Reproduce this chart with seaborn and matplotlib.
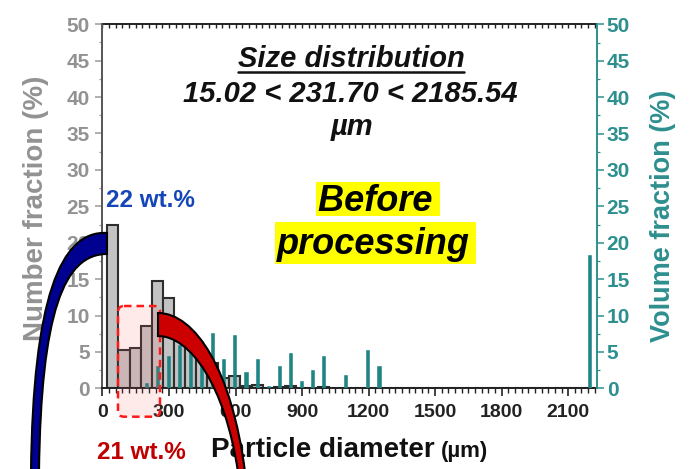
import numpy as np
import pandas as pd
import matplotlib
matplotlib.use("Agg")
import matplotlib.pyplot as plt
import seaborn as sns
from matplotlib.path import Path
from matplotlib.patches import PathPatch, FancyBboxPatch, Rectangle
from matplotlib.transforms import Affine2D
from matplotlib.ticker import MultipleLocator
from matplotlib.lines import Line2D

# ---------------- data ----------------
bin_start = 22          # µm, left edge of first bin
bin_width = 50          # µm
number_fraction = [22.4, 5.2, 5.5, 8.6, 14.8, 12.4, 8.5, 6.5, 4.5, 3.5,
                   1.35, 1.75, 0.3, 0.5, 0.05, 0.15, 0.3, 0.1, 0.05, 0.15,
                   0.1, 0.05, 0.05, 0.05, 0.05, 0, 0, 0, 0, 0,
                   0, 0, 0, 0, 0, 0, 0, 0, 0, 0,
                   0, 0, 0, 0]
volume_fraction = [0, 0, 0, 0.7, 3.0, 4.5, 5.9, 6.3, 6.5, 7.6,
                   4.0, 7.3, 2.2, 4.0, 0.35, 3.0, 4.8, 1.0, 2.5, 4.5,
                   0, 1.8, 0, 5.2, 3.0, 0, 0, 0, 0, 0,
                   0, 0, 0, 0, 0, 0, 0, 0, 0, 0,
                   0, 0, 0, 18.3]
x_ticks = [0, 300, 600, 900, 1200, 1500, 1800, 2100]
y_ticks = [0, 5, 10, 15, 20, 25, 30, 35, 40, 45, 50]
title_lines = ["Size distribution", "15.02 < 231.70 < 2185.54", "µm"]
note_lines = ["Before ", "processing"]
wt_top = "22 wt.%"
wt_bottom = "21 wt.%"

# ---------------- style ----------------
sns.set_theme(style="white")
plt.rcParams['font.family'] = ['Liberation Sans', 'DejaVu Sans']
plt.rcParams['font.weight'] = 'bold'

W, H = 692, 469
GRAY_TXT = '#929292'
TEAL = '#1f8484'
TEAL_TXT = '#2e8f8f'

fig = plt.figure(figsize=(W / 100, H / 100), dpi=100)
fig.patch.set_facecolor('white')
pix = Affine2D().scale(1 / W, -1 / H).translate(0, 1) + fig.transFigure

ax = fig.add_axes([102.5 / W, 1 - 388.3 / H, 494.5 / W, 364 / H])
ax2 = ax.twinx()

n_bins = len(number_fraction)
edges = [float(bin_start + bin_width * i) for i in range(n_bins + 1)]
centers = [bin_start + bin_width * (i + 0.5) for i in range(n_bins)]
df = pd.DataFrame({'d': centers, 'n': number_fraction, 'v': volume_fraction})
df_v = df[df['v'] > 0].reset_index(drop=True)

sns.histplot(data=df, x='d', weights='n', bins=edges, ax=ax,
             color='#c3c3c3', edgecolor='#2e2e2e', linewidth=1.5, alpha=1)
sns.histplot(data=df_v, x='d', weights='v', bins=edges, ax=ax2,
             shrink=0.28, color=TEAL, edgecolor=TEAL, linewidth=0.4, alpha=1)

ax.set_xlim(0, 2230)
ax.set_ylim(0, 50)
ax2.set_ylim(0, 50)
ax.set_xticks(x_ticks)
ax.xaxis.set_minor_locator(MultipleLocator(30))
ax.set_yticks(y_ticks)
ax.yaxis.set_minor_locator(MultipleLocator(2.5))
ax2.set_yticks(y_ticks)
ax2.yaxis.set_minor_locator(MultipleLocator(2.5))
ax.set_xlabel('')
ax.set_ylabel('')
ax2.set_ylabel('')

ax.tick_params(axis='x', which='major', direction='out', length=6, width=1.2,
               color='#222222', labelsize=14, pad=5, bottom=True)
ax.tick_params(axis='x', which='minor', direction='out', length=3.5, width=1.0,
               color='#222222', bottom=True)
for lab in ax.get_xticklabels():
    lab.set_fontweight('bold')
    lab.set_color('#222222')
ax.tick_params(axis='y', which='major', direction='out', length=5, width=1.1,
               color='#9a9a9a', labelcolor=GRAY_TXT, labelsize=15, pad=4, left=True)
ax.tick_params(axis='y', which='minor', direction='out', length=2.5, width=0.9,
               color='#9a9a9a', left=True)
ax2.tick_params(axis='y', which='major', direction='out', length=5, width=1.1,
                color=TEAL_TXT, labelcolor=TEAL_TXT, labelsize=15, pad=2, right=True)
ax2.tick_params(axis='y', which='minor', direction='out', length=2.5, width=0.9,
                color=TEAL_TXT, right=True)

sec = ax.secondary_xaxis('top')
sec.set_xticks(x_ticks)
sec.xaxis.set_minor_locator(MultipleLocator(30))
sec.tick_params(axis='x', which='both', direction='in', labeltop=False,
                length=3, width=1.0, color='#222222')
sec.spines['top'].set_color('#222222')
sec.spines['top'].set_linewidth(1.4)

for name, sp in ax.spines.items():
    sp.set_linewidth(1.4)
ax.spines['left'].set_color('#555555')
ax.spines['bottom'].set_color('#222222')
ax.spines['top'].set_visible(False)
ax.spines['right'].set_visible(False)
for name in ['left', 'top', 'bottom']:
    ax2.spines[name].set_visible(False)
ax2.spines['right'].set_color(TEAL_TXT)
ax2.spines['right'].set_linewidth(1.4)

# axis labels
ax.set_ylabel('Number fraction (%)', fontsize=20, fontweight='bold', color=GRAY_TXT)
ax.yaxis.set_label_coords((49 - 102.5) / 494.5, (388.3 - 208) / 364)
ax2.set_ylabel('Volume fraction (%)', fontsize=19.5, fontweight='bold', color=TEAL_TXT,
               rotation=90)
ax2.yaxis.set_label_coords((650 - 102.5) / 494.5, (388.3 - 216) / 364)
fig.text(211, 457, 'Particle diameter', transform=pix, ha='left', va='baseline',
         fontsize=20, fontweight='bold', color='#111111')
fig.text(441, 457, '(µm)', transform=pix, ha='left', va='baseline',
         fontsize=16, fontweight='bold', color='#111111')

# title
t1 = fig.text(351, 67, title_lines[0], transform=pix, ha='center', va='baseline',
              fontsize=21, fontweight='bold', fontstyle='italic', color='#111111')
fig.text(350, 102, title_lines[1], transform=pix, ha='center', va='baseline',
         fontsize=21, fontweight='bold', fontstyle='italic', color='#111111')
fig.text(352, 135, title_lines[2], transform=pix, ha='center', va='baseline',
         fontsize=21, fontweight='bold', fontstyle='italic', color='#111111')

# highlighted note
fig.add_artist(Rectangle((316, 182), 124, 34, transform=pix, facecolor='#ffff00',
                         edgecolor='none', zorder=3))
fig.add_artist(Rectangle((275, 222), 201, 42, transform=pix, facecolor='#ffff00',
                         edgecolor='none', zorder=3))
fig.text(318, 211, note_lines[0], transform=pix, ha='left', va='baseline',
         fontsize=26, fontweight='bold', fontstyle='italic', color='black', zorder=4)
fig.text(277, 254, note_lines[1], transform=pix, ha='left', va='baseline',
         fontsize=26, fontweight='bold', fontstyle='italic', color='black', zorder=4)

# wt.% labels
fig.text(106, 207, wt_top, transform=pix, ha='left', va='baseline',
         fontsize=17.5, fontweight='bold', color='#1446b8')
fig.text(97, 459, wt_bottom, transform=pix, ha='left', va='baseline',
         fontsize=17.5, fontweight='bold', color='#c00000')

# dashed highlight box
fig.add_artist(FancyBboxPatch((118, 306), 42, 110.7, boxstyle='round,pad=0,rounding_size=6',
                              transform=pix, facecolor=(1, 0.35, 0.35, 0.12),
                              edgecolor='#ff1a1a', linestyle=(0, (3, 2)), linewidth=1.8,
                              zorder=4))


def band(upper, lower, fc):
    verts = [upper[0], upper[1], upper[2], upper[3], lower[3], lower[2], lower[1], lower[0],
             upper[0]]
    codes = [Path.MOVETO, Path.CURVE4, Path.CURVE4, Path.CURVE4, Path.LINETO,
             Path.CURVE4, Path.CURVE4, Path.CURVE4, Path.CLOSEPOLY]
    p = PathPatch(Path(verts, codes), transform=pix, facecolor=fc, edgecolor='black',
                  linewidth=1.5, zorder=5)
    fig.add_artist(p)


band([(107, 233), (60, 230), (33, 300), (31, 472)],
     [(107, 254), (64, 254), (41, 312), (39, 472)], '#000090')
band([(158, 313), (195, 313), (232, 370), (245, 472)],
     [(158, 336), (190, 336), (225, 385), (238, 472)], '#cc0000')

# underline of the title's first line
fig.canvas.draw()
bb = t1.get_window_extent()
fig.add_artist(Line2D([bb.x0 / W, bb.x1 / W], [1 - 72 / H, 1 - 72 / H],
                      transform=fig.transFigure, color='#111111', linewidth=1.8))

fig.savefig('out.png', dpi=100, facecolor='white')
